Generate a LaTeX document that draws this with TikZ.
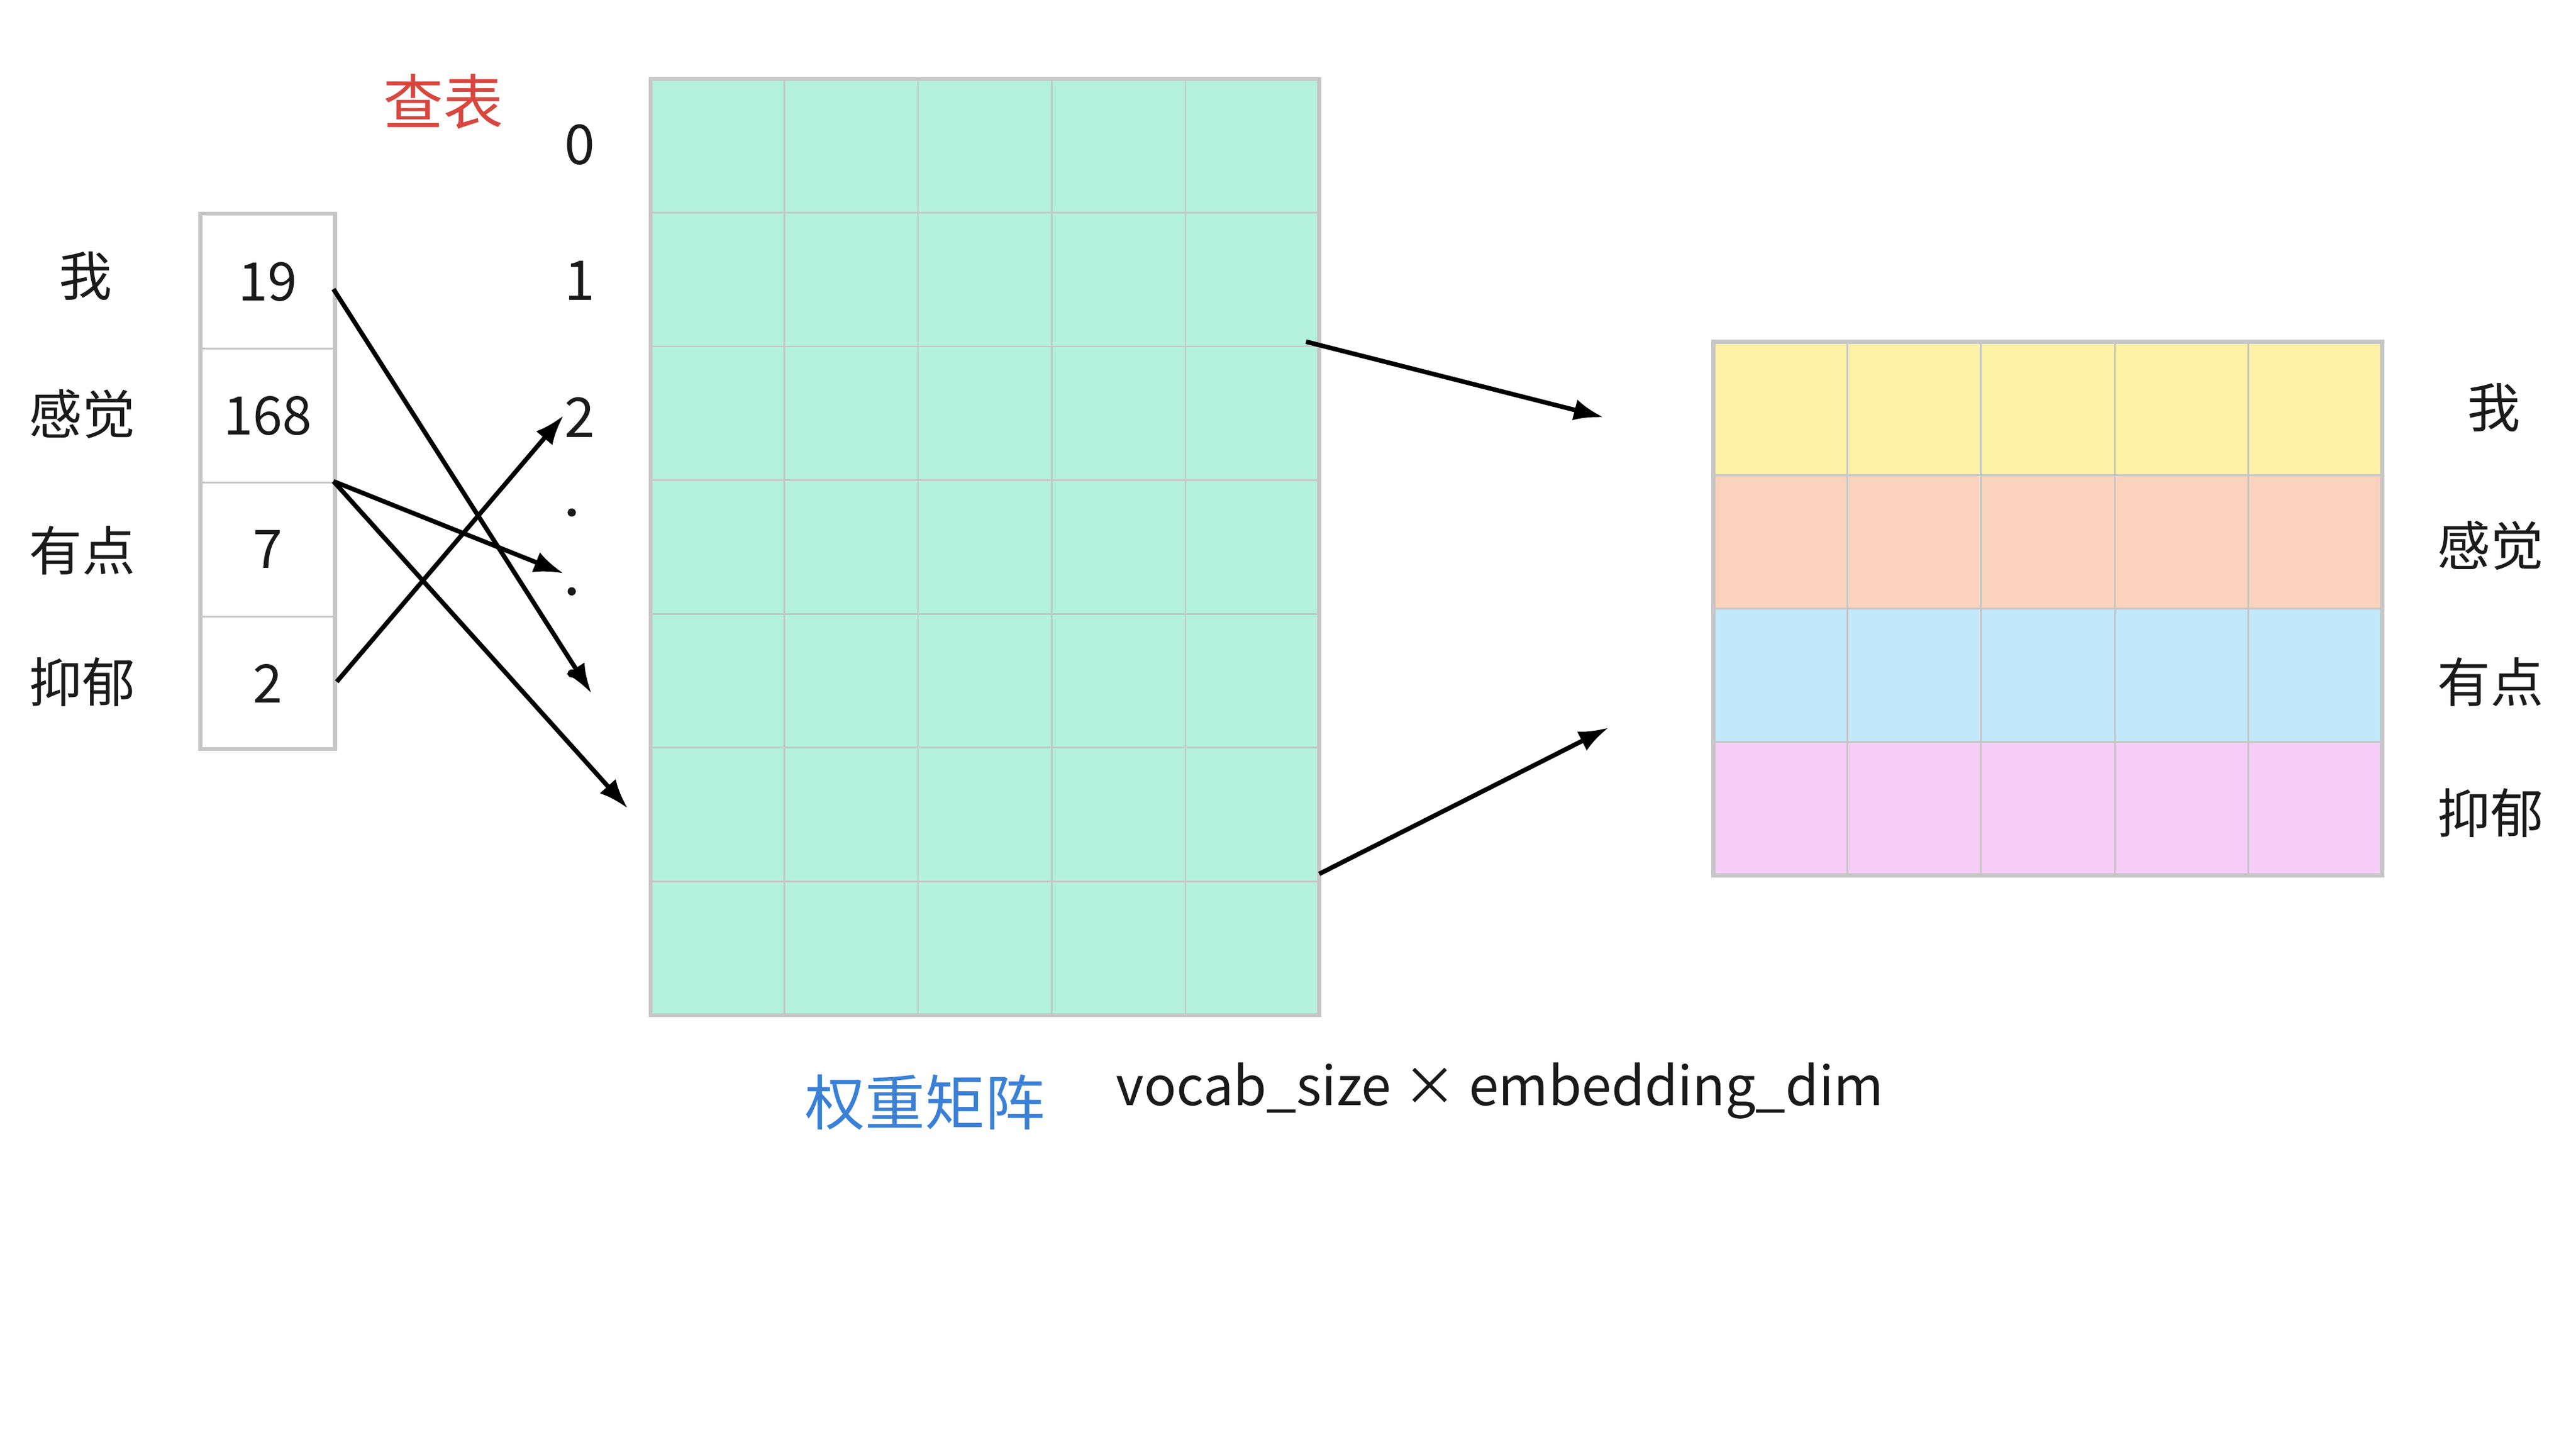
\documentclass[tikz,border=0pt]{standalone}
\usepackage{fontspec}
\setmainfont{Noto Sans CJK SC}
\usetikzlibrary{arrows.meta}
\definecolor{gridgray}{HTML}{C6C6C6}
\definecolor{mint}{HTML}{B3F1DC}
\definecolor{rowyellow}{HTML}{FDF2A6}
\definecolor{rowpeach}{HTML}{FBD3BC}
\definecolor{rowblue}{HTML}{C2E8FC}
\definecolor{rowpink}{HTML}{F5CDF7}
\definecolor{titlered}{HTML}{D8473F}
\definecolor{titleblue}{HTML}{3A80D6}
\definecolor{ink}{HTML}{1A1A1A}
\begin{document}
\begin{tikzpicture}[x=0.02cm,y=-0.02cm,
  txt/.style={inner sep=0pt,text=ink,font=\fontsize{18.4pt}{21pt}\selectfont},
  bigtxt/.style={inner sep=0pt,font=\fontsize{20.8pt}{24pt}\selectfont},
  idcell/.style={draw=gridgray,line width=0.02cm,minimum width=1.64cm,minimum height=1.63cm,inner sep=0pt,text=ink,font=\fontsize{18.4pt}{21pt}\selectfont},
  link/.style={line width=0.055cm,-{Latex[length=0.36cm,width=0.26cm]}},
  thingrid/.style={draw=gridgray,line width=0.02cm},
  border/.style={draw=gridgray,line width=0.05cm}]
\useasboundingbox (0,0) rectangle (1568,884.8);
\fill[white] (0,0) rectangle (1568,884.8);

% title
\node[bigtxt,text=titlered] (title) at (270,62) {查表};

% left words
\node[txt] (lw1) at (52,168) {我};
\node[txt] (lw2) at (50,252) {感觉};
\node[txt] (lw3) at (50,335) {有点};
\node[txt] (lw4) at (50,415) {抑郁};

% id column
\node[idcell] (id1) at (163,171.5) {19};
\node[idcell] (id2) at (163,253) {168};
\node[idcell] (id3) at (163,334.5) {7};
\node[idcell] (id4) at (163,416) {2};
\draw[border] (122,130) rectangle (204,456);

% index labels
\node[txt,font=\fontsize{19pt}{21pt}\selectfont] (ix0) at (353,88) {0};
\node[txt,font=\fontsize{19pt}{21pt}\selectfont] (ix1) at (353,171) {1};
\node[txt,font=\fontsize{19pt}{21pt}\selectfont] (ix2) at (353,254) {2};
\fill[ink] (348,312) circle (2.5);
\fill[ink] (348,360) circle (2.5);
\fill[ink] (348,410) circle (2.5);

% weight matrix
\fill[mint] (396,48) rectangle (803,618);
\foreach \i in {1,...,4} \draw[thingrid] (396+81.4*\i,48) -- ++(0,570);
\foreach \j in {1,...,6} \draw[thingrid] (396,48+81.43*\j) -- ++(407,0);
\draw[border] (396,48) rectangle (803,618);
\node[bigtxt,text=titleblue] (wlabel) at (563,671) {权重矩阵};
\node[txt,font=\fontsize{18.6pt}{22pt}\selectfont] (dims) at (913,664) {vocab\_size × embedding\_dim};

% result matrix
\fill[rowyellow] (1043,208) rectangle (1450,289.25);
\fill[rowpeach] (1043,289.25) rectangle (1450,370.5);
\fill[rowblue] (1043,370.5) rectangle (1450,451.75);
\fill[rowpink] (1043,451.75) rectangle (1450,533);
\foreach \i in {1,...,4} \draw[thingrid] (1043+81.4*\i,208) -- ++(0,325);
\foreach \j in {1,...,3} \draw[thingrid] (1043,208+81.25*\j) -- ++(407,0);
\draw[border] (1043,208) rectangle (1450,533);

% right words
\node[txt] (rw1) at (1518,248) {我};
\node[txt] (rw2) at (1516,332) {感觉};
\node[txt] (rw3) at (1516,415) {有点};
\node[txt] (rw4) at (1516,495) {抑郁};

% connector end points
\coordinate (a1s) at (203,176); \coordinate (a1e) at (360,422);
\coordinate (a2s) at (203,293); \coordinate (a2e) at (343,349);
\coordinate (a3s) at (203,293); \coordinate (a3e) at (382,492);
\coordinate (a4s) at (205,415); \coordinate (a4e) at (343,253);
\coordinate (a5s) at (795,208); \coordinate (a5e) at (976,254);
\coordinate (a6s) at (803,532); \coordinate (a6e) at (979,443);

\draw[link] (a1s) -- (a1e);
\draw[link] (a2s) -- (a2e);
\draw[link] (a3s) -- (a3e);
\draw[link] (a4s) -- (a4e);
\draw[link] (a5s) -- (a5e);
\draw[link] (a6s) -- (a6e);
\end{tikzpicture}
\end{document}
